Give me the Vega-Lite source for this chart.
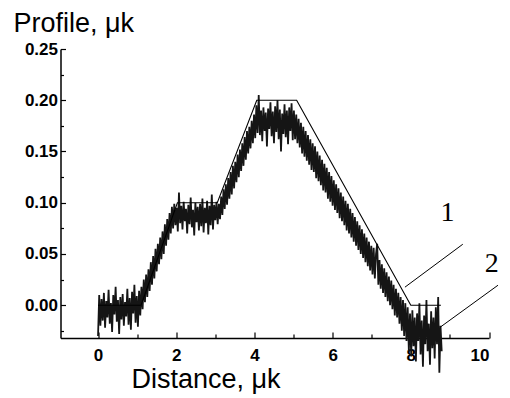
{
  "$schema": "https://vega.github.io/schema/vega-lite/v6.json",
  "width": 428.5,
  "height": 289,
  "autosize": {"type": "none"},
  "padding": {"left": 60.5, "top": 49, "right": 21, "bottom": 60},
  "background": "white",
  "view": {"stroke": null},
  "datasets": {
    "noisy": [
      {"x":0.00,"y":-0.030},{"x":0.03,"y":0.010},{"x":0.06,"y":-0.020},{"x":0.09,"y":0.006},{"x":0.12,"y":-0.015},{"x":0.15,"y":0.012},{"x":0.18,"y":-0.022},{"x":0.21,"y":0.004},{"x":0.24,"y":-0.012},{"x":0.27,"y":0.015},
      {"x":0.30,"y":-0.018},{"x":0.33,"y":0.002},{"x":0.36,"y":-0.026},{"x":0.39,"y":0.010},{"x":0.42,"y":-0.009},{"x":0.45,"y":0.018},{"x":0.48,"y":-0.016},{"x":0.51,"y":0.005},{"x":0.54,"y":-0.028},{"x":0.57,"y":0.008},
      {"x":0.60,"y":-0.014},{"x":0.63,"y":0.011},{"x":0.66,"y":-0.020},{"x":0.69,"y":0.003},{"x":0.72,"y":-0.011},{"x":0.75,"y":0.016},{"x":0.78,"y":-0.019},{"x":0.81,"y":0.007},{"x":0.84,"y":-0.024},{"x":0.87,"y":0.013},
      {"x":0.90,"y":-0.008},{"x":0.93,"y":0.020},{"x":0.96,"y":-0.017},{"x":0.99,"y":0.009},{"x":1.02,"y":-0.021},{"x":1.05,"y":0.014},{"x":1.08,"y":-0.010},
      {"x":1.11,"y":0.018},{"x":1.14,"y":-0.004},{"x":1.17,"y":0.025},{"x":1.20,"y":0.003},{"x":1.23,"y":0.030},{"x":1.26,"y":0.008},{"x":1.29,"y":0.035},{"x":1.32,"y":0.014},{"x":1.35,"y":0.042},{"x":1.38,"y":0.020},
      {"x":1.41,"y":0.048},{"x":1.44,"y":0.026},{"x":1.47,"y":0.055},{"x":1.50,"y":0.033},{"x":1.53,"y":0.060},{"x":1.56,"y":0.040},{"x":1.59,"y":0.066},{"x":1.62,"y":0.045},{"x":1.65,"y":0.072},{"x":1.68,"y":0.050},
      {"x":1.71,"y":0.079},{"x":1.74,"y":0.058},{"x":1.77,"y":0.084},{"x":1.80,"y":0.064},{"x":1.83,"y":0.090},{"x":1.86,"y":0.070},{"x":1.89,"y":0.096},
      {"x":1.92,"y":0.075},{"x":1.95,"y":0.099},{"x":1.98,"y":0.078},{"x":2.01,"y":0.095},{"x":2.04,"y":0.072},{"x":2.07,"y":0.110},{"x":2.10,"y":0.080},{"x":2.13,"y":0.097},{"x":2.16,"y":0.074},{"x":2.19,"y":0.101},
      {"x":2.22,"y":0.082},{"x":2.25,"y":0.094},{"x":2.28,"y":0.070},{"x":2.31,"y":0.098},{"x":2.34,"y":0.079},{"x":2.37,"y":0.105},{"x":2.40,"y":0.076},{"x":2.43,"y":0.093},{"x":2.46,"y":0.068},{"x":2.49,"y":0.100},
      {"x":2.52,"y":0.081},{"x":2.55,"y":0.096},{"x":2.58,"y":0.073},{"x":2.61,"y":0.099},{"x":2.64,"y":0.077},{"x":2.67,"y":0.104},{"x":2.70,"y":0.071},{"x":2.73,"y":0.095},{"x":2.76,"y":0.080},{"x":2.79,"y":0.102},
      {"x":2.82,"y":0.069},{"x":2.85,"y":0.097},{"x":2.88,"y":0.078},{"x":2.91,"y":0.108},{"x":2.94,"y":0.074},{"x":2.97,"y":0.098},{"x":3.00,"y":0.083},{"x":3.03,"y":0.101},{"x":3.06,"y":0.079},{"x":3.09,"y":0.099},
      {"x":3.12,"y":0.084},{"x":3.15,"y":0.106},{"x":3.18,"y":0.088},{"x":3.21,"y":0.113},{"x":3.24,"y":0.094},{"x":3.27,"y":0.118},{"x":3.30,"y":0.098},{"x":3.33,"y":0.124},{"x":3.36,"y":0.104},{"x":3.39,"y":0.130},
      {"x":3.42,"y":0.108},{"x":3.45,"y":0.136},{"x":3.48,"y":0.114},{"x":3.51,"y":0.140},{"x":3.54,"y":0.120},{"x":3.57,"y":0.147},{"x":3.60,"y":0.125},{"x":3.63,"y":0.152},{"x":3.66,"y":0.131},{"x":3.69,"y":0.158},
      {"x":3.72,"y":0.136},{"x":3.75,"y":0.164},{"x":3.78,"y":0.142},{"x":3.81,"y":0.170},{"x":3.84,"y":0.148},{"x":3.87,"y":0.174},{"x":3.90,"y":0.153},{"x":3.93,"y":0.180},{"x":3.96,"y":0.158},{"x":3.99,"y":0.186},
      {"x":4.02,"y":0.163},{"x":4.05,"y":0.195},{"x":4.08,"y":0.168},{"x":4.11,"y":0.205},{"x":4.14,"y":0.166},{"x":4.17,"y":0.190},{"x":4.20,"y":0.160},{"x":4.23,"y":0.193},{"x":4.26,"y":0.170},{"x":4.29,"y":0.188},
      {"x":4.32,"y":0.155},{"x":4.35,"y":0.192},{"x":4.38,"y":0.172},{"x":4.41,"y":0.198},{"x":4.44,"y":0.165},{"x":4.47,"y":0.189},{"x":4.50,"y":0.158},{"x":4.53,"y":0.194},{"x":4.56,"y":0.169},{"x":4.59,"y":0.200},
      {"x":4.62,"y":0.162},{"x":4.65,"y":0.191},{"x":4.68,"y":0.150},{"x":4.71,"y":0.187},{"x":4.74,"y":0.167},{"x":4.77,"y":0.196},{"x":4.80,"y":0.164},{"x":4.83,"y":0.190},{"x":4.86,"y":0.157},{"x":4.89,"y":0.193},
      {"x":4.92,"y":0.170},{"x":4.95,"y":0.197},{"x":4.98,"y":0.161},
      {"x":5.01,"y":0.190},{"x":5.04,"y":0.162},{"x":5.07,"y":0.186},{"x":5.10,"y":0.158},{"x":5.13,"y":0.182},{"x":5.16,"y":0.154},{"x":5.19,"y":0.178},{"x":5.22,"y":0.148},{"x":5.25,"y":0.174},{"x":5.28,"y":0.145},
      {"x":5.31,"y":0.170},{"x":5.34,"y":0.141},{"x":5.37,"y":0.166},{"x":5.40,"y":0.137},{"x":5.43,"y":0.162},{"x":5.46,"y":0.132},{"x":5.49,"y":0.158},{"x":5.52,"y":0.130},{"x":5.55,"y":0.155},{"x":5.58,"y":0.124},
      {"x":5.61,"y":0.150},{"x":5.64,"y":0.121},{"x":5.67,"y":0.146},{"x":5.70,"y":0.117},{"x":5.73,"y":0.142},{"x":5.76,"y":0.112},{"x":5.79,"y":0.138},{"x":5.82,"y":0.110},{"x":5.85,"y":0.134},{"x":5.88,"y":0.104},
      {"x":5.91,"y":0.130},{"x":5.94,"y":0.101},{"x":5.97,"y":0.126},{"x":6.00,"y":0.097},{"x":6.03,"y":0.122},{"x":6.06,"y":0.093},{"x":6.09,"y":0.118},{"x":6.12,"y":0.090},{"x":6.15,"y":0.114},{"x":6.18,"y":0.085},
      {"x":6.21,"y":0.110},{"x":6.24,"y":0.082},{"x":6.27,"y":0.106},{"x":6.30,"y":0.078},{"x":6.33,"y":0.102},{"x":6.36,"y":0.073},{"x":6.39,"y":0.099},{"x":6.42,"y":0.070},{"x":6.45,"y":0.094},{"x":6.48,"y":0.066},
      {"x":6.51,"y":0.090},{"x":6.54,"y":0.062},{"x":6.57,"y":0.086},{"x":6.60,"y":0.058},{"x":6.63,"y":0.082},{"x":6.66,"y":0.054},{"x":6.69,"y":0.078},{"x":6.72,"y":0.050},{"x":6.75,"y":0.074},{"x":6.78,"y":0.046},
      {"x":6.81,"y":0.070},{"x":6.84,"y":0.042},{"x":6.87,"y":0.066},{"x":6.90,"y":0.038},{"x":6.93,"y":0.062},{"x":6.96,"y":0.034},{"x":6.99,"y":0.058},{"x":7.02,"y":0.030},{"x":7.05,"y":0.056},{"x":7.08,"y":0.026},
      {"x":7.11,"y":0.050},{"x":7.14,"y":0.060},{"x":7.17,"y":0.020},{"x":7.20,"y":0.044},{"x":7.23,"y":0.016},{"x":7.26,"y":0.040},{"x":7.29,"y":0.012},{"x":7.32,"y":0.036},{"x":7.35,"y":0.008},{"x":7.38,"y":0.032},
      {"x":7.41,"y":0.004},{"x":7.44,"y":0.028},{"x":7.47,"y":0.000},{"x":7.50,"y":0.024},{"x":7.53,"y":-0.004},{"x":7.56,"y":0.020},{"x":7.59,"y":-0.010},{"x":7.62,"y":0.016},
      {"x":7.65,"y":-0.012},{"x":7.68,"y":0.012},{"x":7.71,"y":-0.018},{"x":7.74,"y":0.008},{"x":7.77,"y":-0.025},{"x":7.80,"y":0.005},{"x":7.83,"y":-0.030},{"x":7.86,"y":0.002},{"x":7.89,"y":-0.035},{"x":7.92,"y":-0.002},
      {"x":7.95,"y":-0.045},{"x":7.98,"y":-0.008},{"x":8.01,"y":-0.050},
      {"x":8.04,"y":-0.005},{"x":8.07,"y":-0.040},{"x":8.10,"y":-0.012},{"x":8.13,"y":-0.055},{"x":8.16,"y":-0.008},{"x":8.19,"y":-0.035},{"x":8.22,"y":0.002},{"x":8.25,"y":-0.048},{"x":8.28,"y":-0.015},{"x":8.31,"y":-0.060},
      {"x":8.34,"y":-0.010},{"x":8.37,"y":-0.038},{"x":8.40,"y":0.005},{"x":8.43,"y":-0.045},{"x":8.46,"y":-0.018},{"x":8.49,"y":-0.058},{"x":8.52,"y":-0.006},{"x":8.55,"y":-0.042},{"x":8.58,"y":-0.012},{"x":8.61,"y":-0.052},
      {"x":8.64,"y":-0.002},{"x":8.67,"y":-0.038},{"x":8.70,"y":0.008},{"x":8.73,"y":-0.066},{"x":8.76,"y":-0.020},{"x":8.79,"y":-0.045}
    ],
    "model": [
      {"x":0.0,"y":0.0},{"x":1.1,"y":0.0},{"x":2.03,"y":0.1},{"x":3.05,"y":0.1},{"x":4.06,"y":0.2},{"x":5.08,"y":0.2},{"x":8.0,"y":0.0},{"x":8.77,"y":0.0}
    ],
    "leaders": [
      {"x":7.85,"y":0.0176,"x2":9.33,"y2":0.0595},
      {"x":8.75,"y":-0.0215,"x2":10.23,"y2":0.0195}
    ],
    "labels": [
      {"x":8.94,"y":0.082,"t":"1"},
      {"x":10.07,"y":0.0322,"t":"2"}
    ]
  },
  "resolve": {"axis": {"x": "independent", "y": "independent"}},
  "layer": [
    {
      "data": {"name": "noisy"},
      "mark": {"type": "line", "color": "#151515", "strokeWidth": 1.8, "clip": false},
      "encoding": {
        "x": {
          "field": "x", "type": "quantitative",
          "scale": {"domain": [-0.96, 10], "nice": false, "zero": false},
          "axis": {
            "orient": "bottom",
            "values": [0,2,4,6,8,10],
            "format": "d",
            "grid": false,
            "domainColor": "black", "domainWidth": 1.5,
            "tickColor": "black", "tickWidth": 1.2, "tickSize": -6,
            "labelFont": "Liberation Sans", "labelFontWeight": "bold", "labelFontSize": 17, "labelColor": "black",
            "labelPadding": 15,
            "title": "Distance, μk",
            "titleFont": "Liberation Sans", "titleFontWeight": "normal", "titleFontSize": 27, "titleColor": "black",
            "titleX": 145, "titleY": 49, "titleAlign": "center", "titleBaseline": "alphabetic"
          }
        },
        "y": {
          "field": "y", "type": "quantitative",
          "scale": {"domain": [-0.032, 0.25], "nice": false, "zero": false},
          "axis": {
            "orient": "left",
            "values": [0,0.05,0.1,0.15,0.2,0.25],
            "format": ".2f",
            "grid": false,
            "domainColor": "black", "domainWidth": 1.5,
            "tickColor": "black", "tickWidth": 1.2, "tickSize": -5,
            "labelFont": "Liberation Sans", "labelFontWeight": "bold", "labelFontSize": 17, "labelColor": "black",
            "labelPadding": 8,
            "title": "Profile, μk",
            "titleFont": "Liberation Sans", "titleFontWeight": "normal", "titleFontSize": 27, "titleColor": "black",
            "titleAngle": 0, "titleX": -47.5, "titleY": -18, "titleAlign": "left", "titleBaseline": "alphabetic"
          }
        }
      }
    },
    {
      "data": {"name": "model"},
      "mark": {"type": "line", "color": "black", "strokeWidth": 1.1, "clip": false},
      "encoding": {
        "x": {
          "field": "x", "type": "quantitative",
          "scale": {"domain": [-0.96, 10], "nice": false, "zero": false},
          "axis": {"orient": "bottom", "values": [1,3,5,7,9], "labels": false, "domain": false, "grid": false, "title": null, "tickColor": "black", "tickWidth": 1.2, "tickSize": -4}
        },
        "y": {
          "field": "y", "type": "quantitative",
          "scale": {"domain": [-0.032, 0.25], "nice": false, "zero": false},
          "axis": {"orient": "left", "values": [-0.025,0.025,0.075,0.125,0.175,0.225], "labels": false, "domain": false, "grid": false, "title": null, "tickColor": "black", "tickWidth": 1.2, "tickSize": -3}
        }
      }
    },
    {
      "data": {"name": "leaders"},
      "mark": {"type": "rule", "color": "black", "strokeWidth": 1, "clip": false},
      "encoding": {
        "x": {"field": "x", "type": "quantitative", "axis": null},
        "y": {"field": "y", "type": "quantitative", "axis": null},
        "x2": {"field": "x2"},
        "y2": {"field": "y2"}
      }
    },
    {
      "data": {"name": "labels"},
      "mark": {"type": "text", "font": "Liberation Serif", "fontSize": 28, "color": "black", "align": "center", "baseline": "alphabetic", "clip": false},
      "encoding": {
        "x": {"field": "x", "type": "quantitative", "axis": null},
        "y": {"field": "y", "type": "quantitative", "axis": null},
        "text": {"field": "t"}
      }
    }
  ]
}
